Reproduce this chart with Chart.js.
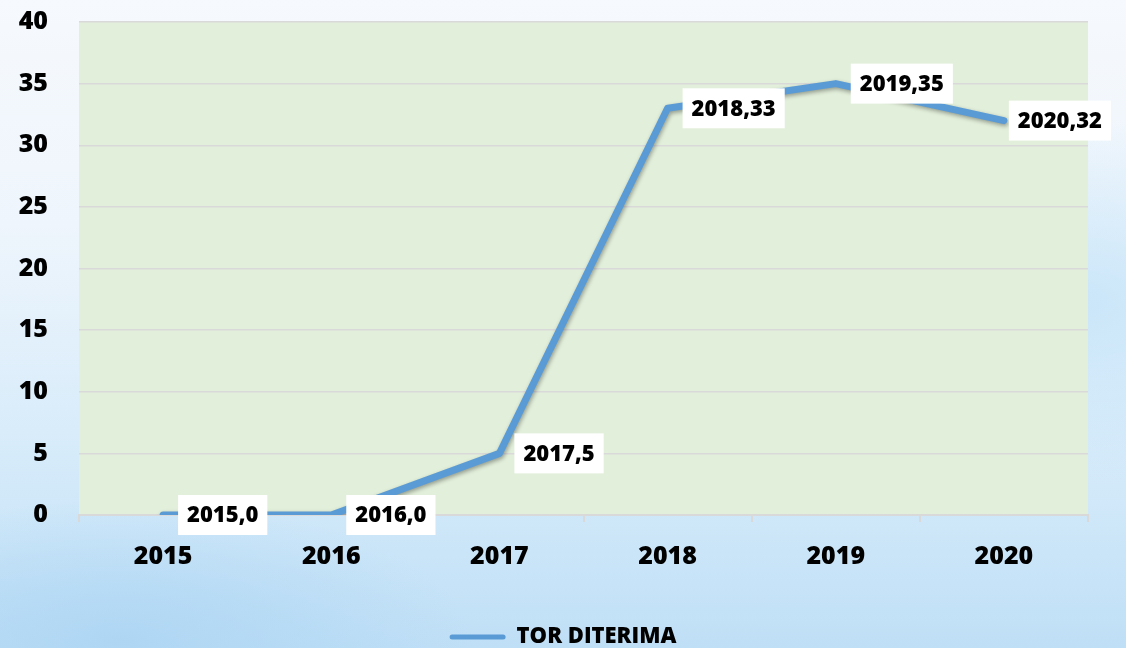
<!DOCTYPE html>
<html>
<head>
<meta charset="utf-8">
<script src="https://cdn.jsdelivr.net/npm/chart.js@4/dist/chart.umd.min.js"></script>
<style>
  html, body { margin: 0; padding: 0; }
  body {
    width: 1126px; height: 648px; overflow: hidden;
    background:
      radial-gradient(ellipse 420px 260px at 1080px 300px, rgba(190,225,248,0.7), rgba(190,225,248,0) 70%),
      radial-gradient(ellipse 500px 200px at 120px 640px, rgba(170,212,243,0.8), rgba(170,212,243,0) 70%),
      linear-gradient(180deg, #f6f9fd 0%, #eef5fc 35%, #d6ebfa 70%, #bfdff6 100%);
  }
  canvas { display: block; }
</style>
</head>
<body>
<canvas id="chart" width="1126" height="648"></canvas>
<script>
const years = ['2015', '2016', '2017', '2018', '2019', '2020'];
const torDiterima = [0, 0, 5, 33, 35, 32];
const seriesName = 'TOR DITERIMA';

const FONT = 'Open Sans';
const ctx = document.getElementById('chart').getContext('2d');
Chart.defaults.font.family = FONT;
Chart.defaults.color = '#000';

// green plot background
const plotBg = {
    id: 'plotBg',
    beforeDraw(chart) {
        const a = chart.chartArea;
        const c = chart.ctx;
        c.save();
        c.fillStyle = '#e2efda';
        c.fillRect(a.left, a.top, a.right - a.left, a.bottom - a.top);
        c.restore();
    }
};

// soft shadow under the line
const lineShadow = {
    id: 'lineShadow',
    beforeDatasetDraw(chart) {
        const c = chart.ctx;
        c.save();
        c.shadowColor = 'rgba(0,0,0,0.35)';
        c.shadowBlur = 4;
        c.shadowOffsetX = 1;
        c.shadowOffsetY = 2;
    },
    afterDatasetDraw(chart) {
        chart.ctx.restore();
    }
};

// white boxes with "year,value"
const dataLabels = {
    id: 'dataLabels',
    afterDatasetsDraw(chart) {
        const c = chart.ctx;
        const meta = chart.getDatasetMeta(0);
        c.save();
        c.font = '800 22px ' + FONT;
        c.textBaseline = 'middle';
        meta.data.forEach((pt, i) => {
            const text = years[i] + ',' + torDiterima[i];
            const w = c.measureText(text).width + 18;
            const h = 40;
            let left = pt.x + 15;
            if (left + w > chart.width - 15) left = chart.width - 15 - w;
            c.fillStyle = '#fff';
            c.fillRect(left, pt.y - h / 2, w, h);
            c.fillStyle = '#000';
            c.fillText(text, left + 9, pt.y + 1);
        });
        c.restore();
    }
};

new Chart(ctx, {
    type: 'line',
    data: {
        labels: years,
        datasets: [{
            label: seriesName,
            data: torDiterima,
            borderColor: '#5b9bd5',
            backgroundColor: '#5b9bd5',
            borderWidth: 7,
            borderCapStyle: 'round',
            borderJoinStyle: 'round',
            pointRadius: 0,
            tension: 0,
            fill: false
        }]
    },
    options: {
        responsive: false,
        animation: false,
        layout: { padding: { top: 22, right: 0, left: 0, bottom: -10 } },
        plugins: {
            legend: {
                position: 'bottom',
                labels: {
                    boxWidth: 56,
                    boxHeight: 5,
                    padding: 0,
                    font: { size: 22, weight: 800 },
                    color: '#000',
                    generateLabels(chart) {
                        return Chart.defaults.plugins.legend.labels.generateLabels(chart).map(l => {
                            l.lineWidth = 0;
                            l.fillStyle = '#5b9bd5';
                            l.borderRadius = 2.5;
                            return l;
                        });
                    }
                }
            },
            tooltip: { enabled: false }
        },
        scales: {
            x: {
                offset: true,
                grid: {
                    display: true,
                    drawOnChartArea: false,
                    drawTicks: true,
                    tickLength: 7,
                    color: '#d9d9d9',
                    lineWidth: 2,
                    offset: true
                },
                border: { display: true, color: '#d9d9d9', width: 2 },
                ticks: {
                    font: { size: 25, weight: 800 },
                    color: '#000',
                    padding: 20
                },
                afterFit(scale) { scale.height = 111; }
            },
            y: {
                min: 0,
                max: 40,
                ticks: {
                    stepSize: 5,
                    font: { size: 25, weight: 800 },
                    color: '#000',
                    padding: 0
                },
                grid: {
                    color: '#d9d9d9',
                    lineWidth: 1.5,
                    drawTicks: true,
                    tickLength: 31,
                    tickColor: 'rgba(0,0,0,0)'
                },
                border: { display: false },
                afterFit(scale) { scale.width = 79; }
            },
            // empty right margin so the legend centres on the full width
            yRight: {
                position: 'right',
                display: true,
                ticks: { display: false },
                grid: { display: false },
                border: { display: false },
                afterFit(scale) { scale.width = 38; }
            }
        }
    },
    plugins: [plotBg, lineShadow, dataLabels]
});
</script>
</body>
</html>
